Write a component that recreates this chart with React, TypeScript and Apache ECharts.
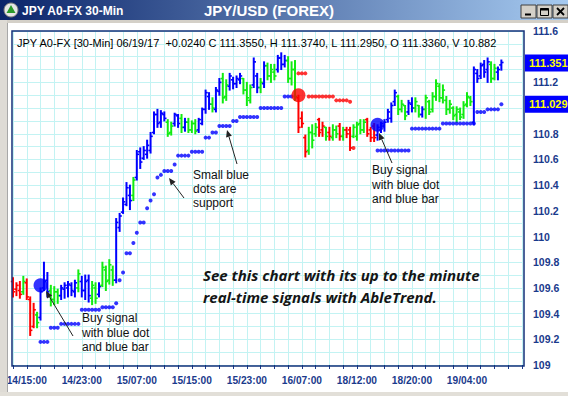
import React, { useEffect, useRef } from 'react';
import * as echarts from 'echarts';

// ---- categories (30-min bars) ----
const sessions = [
  { day: 14, hour: 13, bars: 98 },
  { day: 18, hour: 11, bars: 51 },
];
const labelledTimes = ['14/15:00', '14/23:00', '15/07:00', '15/15:00', '15/23:00', '16/07:00', '18/12:00', '18/20:00', '19/04:00'];

// ---- OHLC bars ----
const barTrend = (
  'rrrgrrrgbb' + 'bgggbbbbbg' + 'bbbggbgggg' + 'bbbbbgbbbb' + 'bbbbbggbbg' +
  'bgggbbbbgb' + 'bggbbbbggg' + 'bbgbgggbbb' + 'gggrrrgggr' + 'rgrggrgrrg' +
  'gggrrrbbbb' + 'bbgggbbggb' + 'gggggggggg' + 'ggggbbbbbg' + 'gbb'
).split('');

const barHigh = [
  109.68, 109.64, 109.65, 109.69, 109.67, 109.53, 109.48, 109.41, 109.60, 109.80,
  109.72, 109.62, 109.61, 109.59, 109.62, 109.64, 109.65, 109.64, 109.66, 109.74,
  109.69, 109.70, 109.70, 109.65, 109.64, 109.64, 109.80, 109.77, 109.82, 109.77,
  110.14, 110.18, 110.30, 110.42, 110.40, 110.46, 110.67, 110.69, 110.70, 110.75,
  110.81, 110.97, 110.99, 110.98, 110.97, 110.91, 110.89, 110.96, 110.95, 110.95,
  110.92, 110.92, 110.90, 110.91, 110.92, 111.00, 111.14, 111.12, 111.08, 111.16,
  111.23, 111.27, 111.22, 111.27, 111.24, 111.25, 111.27, 111.23, 111.20, 111.18,
  111.39, 111.27, 111.23, 111.36, 111.35, 111.34, 111.34, 111.41, 111.43, 111.41,
  111.40, 111.36, 111.37, 111.10, 110.97, 110.79, 110.85, 110.87, 110.88, 110.92,
  110.89, 110.85, 110.85, 110.87, 110.86, 110.88, 110.85, 110.85, 110.85, 110.87,
  110.89, 110.91, 110.91, 110.92, 110.85, 110.88, 110.87, 110.89, 110.91, 110.99,
  111.04, 111.14, 111.10, 111.06, 111.02, 111.06, 111.08, 111.08, 111.02, 111.01,
  111.10, 111.06, 111.12, 111.22, 111.19, 111.18, 111.09, 111.06, 111.01, 111.01,
  111.00, 111.05, 111.12, 111.09, 111.32, 111.30, 111.35, 111.37, 111.39, 111.36,
  111.34, 111.32, 111.374,
];
const barLow = [
  109.53, 109.54, 109.52, 109.55, 109.51, 109.23, 109.29, 109.29, 109.35, 109.58,
  109.53, 109.46, 109.47, 109.48, 109.51, 109.52, 109.53, 109.54, 109.53, 109.57,
  109.53, 109.51, 109.49, 109.47, 109.48, 109.53, 109.61, 109.58, 109.63, 109.62,
  109.64, 110.04, 110.18, 110.24, 110.21, 110.28, 110.44, 110.53, 110.60, 110.61,
  110.65, 110.80, 110.85, 110.85, 110.90, 110.78, 110.79, 110.86, 110.85, 110.81,
  110.82, 110.81, 110.81, 110.80, 110.81, 110.87, 110.96, 110.99, 110.97, 110.97,
  111.10, 111.04, 111.06, 111.14, 111.15, 111.16, 111.19, 111.11, 111.02, 111.04,
  111.16, 111.12, 111.12, 111.16, 111.22, 111.20, 111.22, 111.28, 111.30, 111.32,
  111.20, 111.18, 111.06, 110.81, 110.85, 110.62, 110.64, 110.69, 110.78, 110.78,
  110.78, 110.75, 110.75, 110.75, 110.77, 110.75, 110.75, 110.77, 110.67, 110.77,
  110.75, 110.80, 110.81, 110.78, 110.74, 110.74, 110.75, 110.81, 110.82, 110.89,
  110.89, 111.02, 110.95, 110.97, 110.91, 110.95, 110.97, 110.97, 110.93, 110.93,
  110.92, 110.95, 110.97, 111.06, 111.05, 111.04, 110.95, 110.96, 110.91, 110.89,
  110.91, 110.92, 111.01, 111.02, 110.87, 111.20, 111.23, 111.24, 111.20, 111.20,
  111.22, 111.22, 111.295,
];
const barOpen = [
  109.65, 109.59, 109.58, 109.57, 109.64, 109.51, 109.30, 109.39, 109.37, 109.60,
  109.66, 109.58, 109.51, 109.57, 109.54, 109.59, 109.60, 109.62, 109.57, 109.60,
  109.65, 109.58, 109.66, 109.52, 109.60, 109.55, 109.62, 109.74, 109.66, 109.74,
  109.66, 110.07, 110.19, 110.25, 110.32, 110.32, 110.46, 110.66, 110.61, 110.64,
  110.67, 110.81, 110.95, 110.89, 110.95, 110.89, 110.81, 110.88, 110.94, 110.92,
  110.85, 110.89, 110.83, 110.88, 110.83, 110.88, 110.99, 111.09, 111.03, 110.99,
  111.13, 111.23, 111.09, 111.17, 111.22, 111.19, 111.22, 111.23, 111.14, 111.06,
  111.18, 111.25, 111.16, 111.19, 111.33, 111.25, 111.28, 111.30, 111.39, 111.34,
  111.37, 111.23, 111.30, 111.08, 110.92, 110.77, 110.67, 110.81, 110.80, 110.91,
  110.83, 110.85, 110.81, 110.77, 110.83, 110.86, 110.78, 110.83, 110.83, 110.78,
  110.78, 110.88, 110.83, 110.91, 110.83, 110.86, 110.79, 110.83, 110.86, 110.91,
  110.92, 111.05, 111.09, 110.99, 111.02, 110.97, 111.03, 111.00, 111.02, 110.95,
  110.99, 111.05, 110.99, 111.09, 111.17, 111.08, 111.06, 110.99, 111.00, 110.95,
  110.97, 110.95, 111.03, 111.08, 110.89, 111.27, 111.25, 111.34, 111.30, 111.34,
  111.23, 111.28, 111.336,
];
const barClose = [
  109.57, 109.62, 109.55, 109.65, 109.53, 109.27, 109.43, 109.33, 109.57, 109.65,
  109.57, 109.51, 109.57, 109.54, 109.60, 109.62, 109.63, 109.58, 109.64, 109.71,
  109.58, 109.65, 109.54, 109.62, 109.52, 109.61, 109.76, 109.65, 109.78, 109.66,
  110.11, 110.16, 110.27, 110.38, 110.28, 110.44, 110.64, 110.58, 110.67, 110.71,
  110.78, 110.95, 110.88, 110.96, 110.92, 110.80, 110.86, 110.95, 110.88, 110.85,
  110.89, 110.83, 110.88, 110.82, 110.91, 110.99, 111.12, 111.03, 111.00, 111.14,
  111.20, 111.08, 111.18, 111.25, 111.19, 111.23, 111.25, 111.14, 111.08, 111.16,
  111.36, 111.16, 111.20, 111.33, 111.25, 111.30, 111.25, 111.39, 111.34, 111.37,
  111.23, 111.30, 111.09, 110.85, 110.88, 110.66, 110.81, 110.75, 110.85, 110.81,
  110.86, 110.78, 110.78, 110.83, 110.80, 110.78, 110.83, 110.80, 110.69, 110.85,
  110.87, 110.83, 110.89, 110.80, 110.77, 110.77, 110.85, 110.88, 110.89, 110.97,
  111.02, 111.12, 110.99, 111.03, 110.94, 111.04, 111.00, 111.05, 110.95, 110.99,
  111.08, 110.97, 111.09, 111.19, 111.08, 111.14, 110.99, 111.03, 110.94, 110.99,
  110.93, 111.02, 111.09, 111.05, 111.30, 111.23, 111.33, 111.28, 111.36, 111.23,
  111.31, 111.30, 111.355,
];

// ---- support (blue) and resistance (red) dots, aligned with bars ----
const N = null;
const supportLevel: (number | null)[] = [
  N, N, N, N, N, N, N, N, 109.18, 109.18,
  109.18, 109.29, 109.29, 109.29, 109.32, 109.32, 109.32, 109.32, 109.32, 109.32,
  109.43, 109.43, 109.43, 109.43, 109.43, 109.43, 109.45, 109.45, 109.45, 109.45,
  109.48, 109.66, 109.72, 109.87, 109.87, 109.95, 110.03, 110.11, 110.11, 110.22,
  110.28, 110.33, 110.46, 110.48, 110.51, 110.51, 110.51, 110.56, 110.63, 110.63,
  110.63, 110.63, 110.66, 110.66, 110.66, 110.66, 110.77, 110.77, 110.81, 110.81,
  110.86, 110.86, 110.86, 110.86, 110.90, 110.90, 110.93, 110.93, 110.93, 110.93,
  110.93, 110.93, 111.00, 111.00, 111.00, 111.00, 111.00, 111.00, 111.00, 111.09,
  111.09, 111.09, N, N, N, N, N, N, N, N,
  N, N, N, N, N, N, N, N, N, N,
  N, N, N, N, N, N, 110.67, 110.67, 110.67, 110.67,
  110.67, 110.67, 110.67, 110.67, 110.67, 110.67, 110.84, 110.84, 110.84, 110.84,
  110.84, 110.84, 110.84, 110.84, 110.84, 110.88, 110.88, 110.88, 110.88, 110.88,
  110.88, 110.88, 110.88, 110.88, 110.88, 110.97, 110.97, 110.97, 110.99, 110.99,
  110.99, 110.99, 111.029,
];
const resistanceLevel: (number | null)[] = [
  N, N, N, N, N, N, N, N, N, N,
  N, N, N, N, N, N, N, N, N, N,
  N, N, N, N, N, N, N, N, N, N,
  N, N, N, N, N, N, N, N, N, N,
  N, N, N, N, N, N, N, N, N, N,
  N, N, N, N, N, N, N, N, N, N,
  N, N, N, N, N, N, N, N, N, N,
  N, N, N, N, N, N, N, N, N, N,
  N, N, N, 111.27, 111.27, 111.27, 111.09, 111.09, 111.09, 111.09,
  111.09, 111.09, 111.09, 111.09, 111.06, 111.06, 111.06, 111.06, 111.05, 110.69,
  N, N, N, N, N, N, N, N, N, N,
  N, N, N, N, N, N, N, N, N, N,
  N, N, N, N, N, N, N, N, N, N,
  N, N, N, N, N, N, N, N, N, N,
  N, N, N,
];

// ---- big signal dots ----
const signalIdx = [8, 83, 106];
const signalVal = [109.62, 111.1, 110.87];
const signalColor = ['#0000ff', '#ff0000', '#0000ff'];

// ---- highlighted right-axis values (they cover the tick labels beneath) ----
const markValues = [111.351, 111.029];

const headerText =
  'JPY A0-FX [30-Min] 06/19/17  +0.0240 C 111.3550, H 111.3740, L 111.2950, O 111.3360, V 10.8820';

const FONT = 'Arial, "Liberation Sans", sans-serif';
const AXIS_COLOR = '#1a3a8c';
const GRID_COLOR = '#c3f3f3';
const trendColor: Record<string, string> = { r: '#ff0000', g: '#11ec11', b: '#0000ff' };

function buildCategories(): string[] {
  const out: string[] = [];
  const p = (n: number) => String(n).padStart(2, '0');
  sessions.forEach((s) => {
    for (let k = 0; k < s.bars; k++) {
      const total = s.hour * 60 + k * 30;
      const day = s.day + Math.floor(total / 1440);
      const m = total % 1440;
      out.push(`${p(day)}/${p(Math.floor(m / 60))}:${p(m % 60)}`);
    }
  });
  return out;
}

function arrow(x1: number, y1: number, x2: number, y2: number) {
  const a = Math.atan2(y2 - y1, x2 - x1);
  const len = 7;
  const hw = 3;
  const bx = x2 - len * Math.cos(a);
  const by = y2 - len * Math.sin(a);
  const px = -Math.sin(a) * hw;
  const py = Math.cos(a) * hw;
  return [
    { type: 'line', z: 20, shape: { x1, y1, x2: bx, y2: by }, style: { stroke: '#222', lineWidth: 1 } },
    {
      type: 'polygon', z: 20,
      shape: { points: [[x2, y2], [bx + px, by + py], [bx - px, by - py]] },
      style: { fill: '#222' },
    },
  ];
}

export default function App() {
  const ref = useRef<HTMLDivElement>(null);

  useEffect(() => {
    if (!ref.current) return;
    const chart = echarts.init(ref.current, undefined, { renderer: 'svg' });
    const categories = buildCategories();

    const option: any = {
      animation: false,
      backgroundColor: '#ffffff',
      grid: { left: 13, top: 31, width: 509, height: 334 },
      xAxis: {
        type: 'category',
        data: categories,
        boundaryGap: false,
        axisLine: { show: false },
        axisTick: {
          show: true,
          interval: (i: number) => i % 4 === 0,
          length: 4,
          lineStyle: { color: AXIS_COLOR, width: 1 },
        },
        axisLabel: {
          interval: (_i: number, v: string) => labelledTimes.includes(v),
          color: AXIS_COLOR,
          fontWeight: 'bold',
          fontSize: 10.2,
          fontFamily: FONT,
          margin: 10,
        },
        splitLine: {
          show: true,
          interval: (i: number) => i % 4 === 0,
          lineStyle: { color: GRID_COLOR, width: 1 },
        },
      },
      yAxis: {
        type: 'value',
        position: 'right',
        min: 109,
        max: 111.6,
        interval: 0.1,
        axisLine: { show: false },
        axisTick: { show: false },
        axisLabel: {
          formatter: (v: number) => {
            const t = Math.round(v * 10);
            if (t % 2 !== 0) return '';
            if (markValues.some((m) => Math.abs(m - t / 10) < 0.07)) return '';
            return String(t / 10);
          },
          color: AXIS_COLOR,
          fontWeight: 'bold',
          fontSize: 10.5,
          fontFamily: FONT,
          margin: 11,
        },
        splitLine: { show: true, lineStyle: { color: GRID_COLOR, width: 1 } },
      },
      series: [
        {
          type: 'custom',
          z: 2,
          data: barOpen.map((o, i) => [i, o, barClose[i], barLow[i], barHigh[i]]),
          encode: { x: 0, y: [1, 2, 3, 4] },
          renderItem: (params: any, api: any) => {
            const i = api.value(0);
            const o = api.coord([i, api.value(1)]);
            const c = api.coord([i, api.value(2)]);
            const l = api.coord([i, api.value(3)]);
            const h = api.coord([i, api.value(4)]);
            const color = trendColor[barTrend[params.dataIndex]];
            const x = h[0];
            return {
              type: 'group',
              children: [
                { type: 'line', shape: { x1: x, y1: h[1] - 0.5, x2: x, y2: l[1] + 0.5 }, style: { stroke: color, lineWidth: 2 } },
                { type: 'line', shape: { x1: x - 2.2, y1: o[1], x2: x, y2: o[1] }, style: { stroke: color, lineWidth: 1.6 } },
                { type: 'line', shape: { x1: x, y1: c[1], x2: x + 2.2, y2: c[1] }, style: { stroke: color, lineWidth: 1.6 } },
              ],
            };
          },
        },
        {
          type: 'scatter',
          z: 3,
          symbol: 'circle',
          symbolSize: 4,
          itemStyle: { color: '#0000ff' },
          data: supportLevel.flatMap((v, i) => (v == null ? [] : [[i, v]])),
        },
        {
          type: 'scatter',
          z: 3,
          symbol: 'circle',
          symbolSize: 4,
          itemStyle: { color: '#ff0000' },
          data: resistanceLevel.flatMap((v, i) => (v == null ? [] : [[i, v]])),
        },
        {
          type: 'scatter',
          z: 4,
          symbol: 'circle',
          symbolSize: 14,
          data: signalIdx.map((i, k) => ({ value: [i, signalVal[k]], itemStyle: { color: signalColor[k] } })),
        },
      ],
    };
    chart.setOption(option);

    const boxes: any[] = [];
    markValues.forEach((v) => {
      const y = chart.convertToPixel({ yAxisIndex: 0 }, v) as number;
      boxes.push({ type: 'rect', z: 30, shape: { x: 525, y: y - 8.5, width: 43, height: 17 }, style: { fill: '#0000ff' } });
      boxes.push({
        type: 'text', z: 31,
        style: {
          text: v.toFixed(3), x: 529, y, fill: '#ffff00',
          font: `bold 11px ${FONT}`, verticalAlign: 'middle', align: 'left',
        },
      });
    });

    const btn = (x: number) => ({
      type: 'rect', z: 40, shape: { x, y: 5, width: 15, height: 13 },
      style: { fill: '#d4d0c8', stroke: '#404040', lineWidth: 1 },
    });

    const graphics: any[] = [
      // window chrome
      { type: 'rect', z: 10, shape: { x: 0, y: 20, width: 568, height: 3 }, style: { fill: '#d4d0c8' } },
      { type: 'rect', z: 10, shape: { x: 0, y: 20, width: 7, height: 376 }, style: { fill: '#dedbd5' } },
      { type: 'line', z: 10, shape: { x1: 7.5, y1: 23, x2: 7.5, y2: 396 }, style: { stroke: '#a8a8a8', lineWidth: 1 } },
      { type: 'rect', z: 10, shape: { x: 0, y: 392, width: 568, height: 4 }, style: { fill: '#e2dfd8' } },
      {
        type: 'rect', z: 40, shape: { x: 0, y: 0, width: 568, height: 20 },
        style: {
          fill: new echarts.graphic.LinearGradient(0, 0, 1, 0, [
            { offset: 0, color: '#0a246a' },
            { offset: 1, color: '#a6caf0' },
          ]),
        },
      },
      { type: 'circle', z: 41, shape: { cx: 11, cy: 10, r: 7 }, style: { fill: '#e6e6e6', stroke: '#7a7a7a', lineWidth: 1 } },
      { type: 'polygon', z: 42, shape: { points: [[11, 5], [15.5, 13], [6.5, 13]] }, style: { fill: '#2a9a2a' } },
      {
        type: 'text', z: 41,
        style: { text: 'JPY A0-FX 30-Min', x: 22, y: 10.5, fill: '#ffffff', font: `bold 12px ${FONT}`, verticalAlign: 'middle' },
      },
      {
        type: 'text', z: 41,
        style: { text: 'JPY/USD (FOREX)', x: 269, y: 10.5, fill: '#ffffff', font: `bold 15px ${FONT}`, verticalAlign: 'middle', align: 'center' },
      },
      btn(521), btn(537), btn(553),
      { type: 'line', z: 41, shape: { x1: 525, y1: 14.5, x2: 531, y2: 14.5 }, style: { stroke: '#000', lineWidth: 2 } },
      { type: 'rect', z: 41, shape: { x: 540.5, y: 8.5, width: 8, height: 7 }, style: { fill: 'none', stroke: '#000', lineWidth: 1 } },
      { type: 'line', z: 41, shape: { x1: 540.5, y1: 9.5, x2: 548.5, y2: 9.5 }, style: { stroke: '#000', lineWidth: 2 } },
      { type: 'line', z: 41, shape: { x1: 557, y1: 8, x2: 564, y2: 15 }, style: { stroke: '#000', lineWidth: 1.8 } },
      { type: 'line', z: 41, shape: { x1: 564, y1: 8, x2: 557, y2: 15 }, style: { stroke: '#000', lineWidth: 1.8 } },
      // plot frame
      { type: 'rect', z: 15, shape: { x: 12, y: 31, width: 512, height: 335 }, style: { fill: 'none', stroke: '#12317a', lineWidth: 1.5 } },
      // header line
      {
        type: 'text', z: 20,
        style: {
          text: headerText, x: 17, y: 43, fill: '#000', font: `11px ${FONT}`,
          verticalAlign: 'middle', width: 487, overflow: 'truncate', ellipsis: '',
        },
      },
      // annotations
      {
        type: 'text', z: 20,
        style: { text: 'Buy signal\nwith blue dot\nand blue bar', x: 82, y: 311, fill: '#111', font: `12px ${FONT}`, lineHeight: 14.5, verticalAlign: 'top' },
      },
      {
        type: 'text', z: 20,
        style: { text: 'Small blue\ndots are\nsupport', x: 193, y: 168, fill: '#111', font: `12px ${FONT}`, lineHeight: 14, verticalAlign: 'top' },
      },
      {
        type: 'text', z: 20,
        style: { text: 'Buy signal\nwith blue dot\nand blue bar', x: 372, y: 163, fill: '#111', font: `12px ${FONT}`, lineHeight: 14.5, verticalAlign: 'top' },
      },
      {
        type: 'text', z: 20,
        style: {
          text: 'See this chart with its up to the minute\nreal-time signals with AbleTrend.',
          x: 203, y: 264, fill: '#151515', font: `italic bold 15px "Open Sans", Lato, sans-serif`,
          lineHeight: 22, verticalAlign: 'top',
        },
      },
      ...arrow(73, 336, 46, 291),
      ...arrow(184, 198, 169, 178),
      ...arrow(237, 164, 227, 130),
      ...arrow(392, 163, 379, 133),
      ...boxes,
    ];

    chart.setOption({ graphic: graphics });

    return () => chart.dispose();
  }, []);

  return (
    <div
      ref={ref}
      style={{ position: 'fixed', left: 0, top: 0, width: 568, height: 396 }}
    />
  );
}
